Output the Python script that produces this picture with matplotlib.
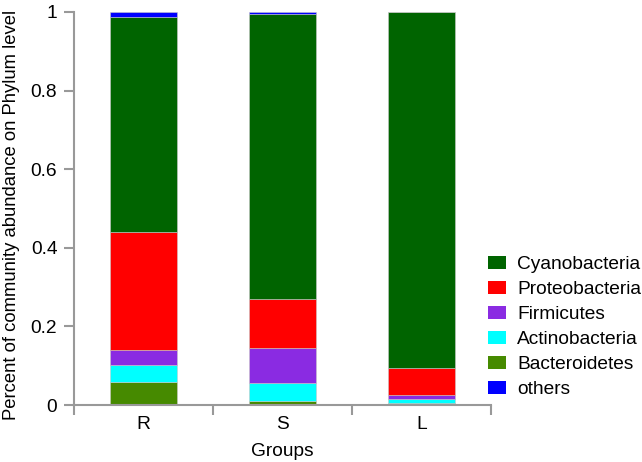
import matplotlib
matplotlib.use("Agg")
import matplotlib.pyplot as plt
from matplotlib.patches import Patch
import numpy as np

plt.rcParams['font.family'] = ['Liberation Sans', 'DejaVu Sans']

groups = ["R", "S", "L"]
phyla = ["Bacteroidetes", "Actinobacteria", "Firmicutes", "Proteobacteria", "Cyanobacteria", "others"]
bacteroidetes = [0.059, 0.011, 0.005]
actinobacteria = [0.044, 0.046, 0.011]
firmicutes = [0.036, 0.088, 0.009]
proteobacteria = [0.302, 0.125, 0.070]
cyanobacteria = [0.546, 0.725, 0.905]
others = [0.013, 0.005, 0.0]
legend_order = ["Cyanobacteria", "Proteobacteria", "Firmicutes", "Actinobacteria", "Bacteroidetes", "others"]

colors = {
    "Bacteroidetes": "#468A00",
    "Actinobacteria": "#00FFFF",
    "Firmicutes": "#8A2BE2",
    "Proteobacteria": "#FF0000",
    "Cyanobacteria": "#006400",
    "others": "#0000FF",
}
series = {
    "Bacteroidetes": bacteroidetes,
    "Actinobacteria": actinobacteria,
    "Firmicutes": firmicutes,
    "Proteobacteria": proteobacteria,
    "Cyanobacteria": cyanobacteria,
    "others": others,
}

FS = 13.8

fig = plt.figure(figsize=(6.42, 4.62), dpi=100)
ax = fig.add_axes([74/642, (462-405)/462, (491-74)/642, (405-12)/462])

x = np.arange(len(groups))
bottom = np.zeros(len(groups))
for p in phyla:
    vals = np.array(series[p])
    ax.bar(x, vals, width=0.475, bottom=bottom, color=colors[p],
           edgecolor='#c8c8c8', linewidth=0.4)
    bottom += vals

axis_col = '#999999'
ax.set_xlim(-0.5, 2.5)
ax.set_ylim(0, 1)
for s in ['top', 'right']:
    ax.spines[s].set_visible(False)
for s in ['left', 'bottom']:
    ax.spines[s].set_color(axis_col)
    ax.spines[s].set_linewidth(1.5)

ax.set_yticks([0, 0.2, 0.4, 0.6, 0.8, 1.0])
ax.set_yticklabels(["0", "0.2", "0.4", "0.6", "0.8", "1"])
ax.set_xticks([-0.5, 0.5, 1.5, 2.5])
ax.set_xticklabels([])
ax.set_xticks(x, minor=True)
ax.set_xticklabels(groups, minor=True)
ax.tick_params(axis='x', which='major', length=7, width=1.5, color=axis_col, direction='out')
ax.tick_params(axis='x', which='minor', length=0, pad=8, labelsize=FS)
ax.tick_params(axis='y', length=7, width=1.5, color=axis_col, direction='out', pad=5, labelsize=FS)

ax.set_xlabel("Groups", fontsize=FS, labelpad=7)
ax.set_ylabel("Percent of community abundance on Phylum level", fontsize=13.3, va='center')
ax.yaxis.set_label_coords((12 - 74) / 417, (405 - 215) / 393)

em = FS * 100 / 72
handles = [Patch(facecolor=colors[p], edgecolor='none', label=p) for p in legend_order]
fig.legend(handles=handles, loc='upper left', bbox_to_anchor=(488/642, 1 - 256/462),
           frameon=False, fontsize=FS, handlelength=18/em, handleheight=13/em,
           labelspacing=(25 - em)/em + 0.094, handletextpad=11/em, borderpad=0, borderaxespad=0)

fig.savefig("out.png", dpi=100)
